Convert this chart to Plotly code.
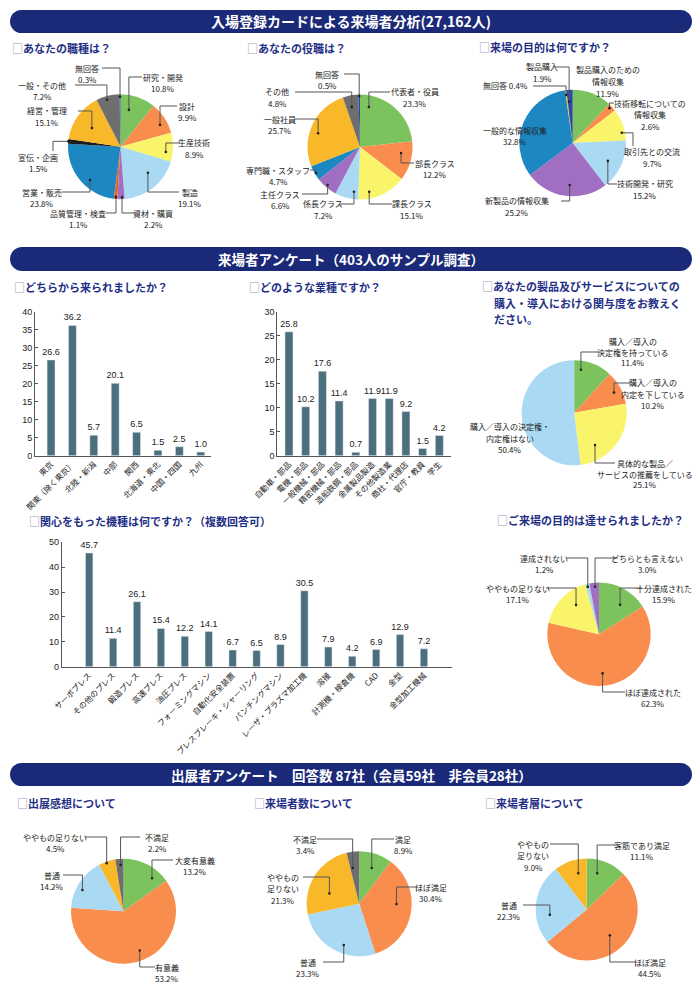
import math
import plotly.graph_objects as go

W, H = 700, 986
JP = "Noto Sans CJK JP, Noto Sans, sans-serif"
NUM = "Liberation Sans, Arial, sans-serif"
BANNER = "#1b2a78"
TITLE_C = "#1f2f86"
BAR_C = "#4c6f7e"

GREEN, ORANGE, YELLOW, LBLUE = "#7cc35e", "#f98d4e", "#f9f46a", "#a9d9f3"
PURPLE, BLUE, GOLD, GRAY = "#a16fc2", "#1c87c0", "#f9b82a", "#6e6e6e"
NAVY, BLACK, REDOR = "#2a48a8", "#1a1a1a", "#e8642c"

# ---------------- data ----------------
JOB_LABELS = ["研究・開発", "設計", "生産技術", "製造", "資材・購買", "品質管理・検査",
              "営業・販売", "宣伝・企画", "経営・管理", "一般・その他", "無回答"]
JOB_VALUES = [10.8, 9.9, 8.9, 19.1, 2.2, 1.1, 23.8, 1.5, 15.1, 7.2, 0.3]

POST_LABELS = ["代表者・役員", "部長クラス", "課長クラス", "係長クラス", "主任クラス",
               "専門職・スタッフ", "一般社員", "その他", "無回答"]
POST_VALUES = [23.3, 12.2, 15.1, 7.2, 6.6, 4.7, 25.7, 4.8, 0.5]

PURPOSE_LABELS = ["製品購入のための\n情報収集", "技術移転についての\n情報収集", "取引先との交流",
                  "技術開発・研究", "新製品の情報収集", "一般的な情報収集", "無回答", "製品購入"]
PURPOSE_VALUES = [11.9, 2.6, 9.7, 15.2, 25.2, 32.8, 0.4, 1.9]

REGION_LABELS = ["東京", "関東（除く東京）", "北陸・新潟", "中部", "関西", "北海道・東北", "中国・四国", "九州"]
REGION_VALUES = [26.6, 36.2, 5.7, 20.1, 6.5, 1.5, 2.5, 1.0]
REGION_TICKS = [0, 5, 10, 15, 20, 25, 30, 35, 40]

INDUSTRY_LABELS = ["自動車・部品", "電機・部品", "一般機械・部品", "精密機械・部品", "造船鉄鋼・部品",
                   "金属製品製造", "その他製造業", "商社・代理店", "官庁・教員", "学生"]
INDUSTRY_VALUES = [25.8, 10.2, 17.6, 11.4, 0.7, 11.9, 11.9, 9.2, 1.5, 4.2]
INDUSTRY_TICKS = [0, 5, 10, 15, 20, 25, 30]

ROLE_LABELS = ["購入／導入の\n決定権を持っている", "購入／導入の\n内定を下している",
               "具体的な製品／\nサービスの推薦をしている", "購入／導入の決定権・\n内定権はない"]
ROLE_VALUES = [11.4, 10.2, 25.1, 50.4]

MACHINE_LABELS = ["サーボプレス", "その他のプレス", "鍛造プレス", "高速プレス", "油圧プレス",
                  "フォーミングマシン", "自動化安全装置", "プレスブレーキ・シャーリング", "パンチングマシン",
                  "レーザ・プラズマ加工機", "溶接", "計測機・検査機", "CAD", "金型", "金型加工機械"]
MACHINE_VALUES = [45.7, 11.4, 26.1, 15.4, 12.2, 14.1, 6.7, 6.5, 8.9, 30.5, 7.9, 4.2, 6.9, 12.9, 7.2]
MACHINE_TICKS = [0, 10, 20, 30, 40, 50]

ACHIEVE_LABELS = ["十分達成された", "ほぼ達成された", "ややもの足りない", "達成されない", "どちらとも言えない"]
ACHIEVE_VALUES = [15.9, 62.3, 17.1, 1.2, 3.0]

EXHIBIT_LABELS = ["大変有意義", "有意義", "普通", "ややもの足りない", "不満足"]
EXHIBIT_VALUES = [13.2, 53.2, 14.2, 4.5, 2.2]

VISITNUM_LABELS = ["満足", "ほぼ満足", "普通", "ややもの\n足りない", "不満足"]
VISITNUM_VALUES = [8.9, 30.4, 23.3, 21.3, 3.4]

VISITTYPE_LABELS = ["客筋であり満足", "ほぼ満足", "普通", "ややもの\n足りない"]
VISITTYPE_VALUES = [11.1, 44.5, 22.3, 9.0]

# ---------------- layout specs (positions in px) ----------------
JOB_POS = [dict(x=163, y=77, lx=142, t=0.33, f=0.72), dict(x=187, y=106, lx=177, t=0.62, f=0.86),
           dict(x=194, y=143, lx=180, t=0.69, f=0.87), dict(x=190, y=192, lx=179, t=0.39, f=0.72),
           dict(x=153, y=213, lx=134, t=0.35, f=0.96), dict(x=78, y=213, lx=106, t=0.43, f=0.96),
           dict(x=42, y=192, lx=62, t=0.41, f=0.86), dict(x=38, y=157, lx=53, ly=151, m="v", t=0.5, f=1.0),
           dict(x=47, y=111, lx=78, t=0.45, f=0.65), dict(x=42, y=85, lx=75, t=0.42, f=0.93),
           dict(x=87, y=68, lx=102, t=0.5, f=0.95)]
POST_POS = [dict(x=415, y=92, lx=390, t=0.15, f=0.78), dict(x=435, y=163, lx=414, t=0.33, f=0.79),
            dict(x=412, y=204, lx=392, t=0.75, f=0.87), dict(x=323, y=204, lx=340, t=0.22, f=0.86),
            dict(x=280, y=194, lx=302, t=0.53, f=0.95), dict(x=278, y=170, lx=310, t=0.46, f=0.97),
            dict(x=280, y=119, lx=294, t=0.43, f=0.84), dict(x=277, y=92, lx=295, t=0.43, f=0.78),
            dict(x=327, y=74, lx=344, t=0.5, f=0.97)]
PURPOSE_POS = [dict(x=608, y=70, noline=True), dict(x=650, y=103, lx=614, t=0.38, f=0.95),
               dict(x=652, y=152, lx=633, ly=146, m="v", t=0.74, f=0.94),
               dict(x=645, y=184, lx=617, t=0.54, f=0.74), dict(x=517, y=201, lx=561, t=0.46, f=0.79),
               dict(x=515, y=130, noline=True), dict(x=505, y=86, lx=533, t=0.3, f=0.91, inline=True),
               dict(x=542, y=67, lx=555, t=0.28, f=0.78)]
ROLE_POS = [dict(x=633, y=341, lx=601, ly=352, t=0.21, f=0.83), dict(x=653, y=383, lx=630, t=0.55, f=0.85),
            dict(x=645, y=463, lx=615, t=0.72, f=0.73), dict(x=510, y=427, noline=True)]
ACHIEVE_POS = [dict(x=664, y=588, lx=642, t=0.62, f=0.7), dict(x=653, y=692, lx=625, t=0.52, f=0.76),
               dict(x=518, y=588, lx=546, t=0.63, f=0.72), dict(x=544, y=558, lx=567, t=0.42, f=0.94),
               dict(x=647, y=558, lx=618, t=0.56, f=0.92)]
EXHIBIT_POS = [dict(x=195, y=860, lx=173, t=0.75, f=0.83), dict(x=167, y=967, lx=155, t=0.47, f=0.81),
               dict(x=52, y=875, lx=63, t=0.4, f=0.88), dict(x=55, y=837, lx=85, t=0.45, f=0.97),
               dict(x=157, y=837, lx=140, t=0.6, f=0.88)]
VISITNUM_POS = [dict(x=403, y=839, lx=394, t=0.53, f=0.72), dict(x=431, y=887, lx=418, t=0.43, f=0.71),
                dict(x=308, y=962, lx=323, t=0.4, f=0.84), dict(x=283, y=877, lx=303, t=0.35, f=0.6),
                dict(x=305, y=839, lx=317, t=0.26, f=0.69)]
VISITTYPE_POS = [dict(x=642, y=845, lx=615, t=0.35, f=0.74), dict(x=650, y=962, lx=637, t=0.5, f=0.68),
                 dict(x=509, y=905, lx=523, t=0.34, f=0.73), dict(x=533, y=844, lx=550, t=0.65, f=0.73)]


def X(px):
    return px / W


def Y(py):
    return 1 - py / H


fig = go.Figure()
shapes, annots = [], []


def text(x, y, s, size=8, color="#222", anchor="center", family=JP):
    annots.append(dict(x=X(x), y=Y(y), xref="paper", yref="paper", text=s, showarrow=False,
                       xanchor=anchor, yanchor="middle", font=dict(size=size, color=color, family=family)))


def add_pie(labels, values, colors, cx, cy, r, specs, gap=11.5):
    fig.add_trace(go.Pie(labels=[l.replace("\n", "") for l in labels], values=values, sort=False,
                         direction="clockwise", rotation=0, textinfo="none", hoverinfo="label+value",
                         marker=dict(colors=colors, line=dict(width=0)), showlegend=False,
                         domain=dict(x=[X(cx - r), X(cx + r)], y=[Y(cy + r), Y(cy - r)])))
    total = sum(values)
    cum = 0.0
    for lab, v, sp in zip(labels, values, specs):
        pct = f"{v:.1f}%"
        lines = [lab + " " + pct] if sp.get("inline") else lab.split("\n") + [pct]
        for i, ln in enumerate(lines):
            text(sp["x"], sp["y"] + i * gap, ln)
        if not sp.get("noline"):
            th = math.radians((cum + sp.get("t", 0.5) * v) / total * 360)
            dxp = cx + sp["f"] * r * math.sin(th)
            dyp = cy - sp["f"] * r * math.cos(th)
            sx, sy = sp["lx"], sp.get("ly", sp["y"])
            if sp.get("m", "h") == "h":
                pts = [(sx, sy), (dxp, sy), (dxp, dyp)]
            else:
                pts = [(sx, sy), (sx, dyp), (dxp, dyp)]
            path = "M " + " L ".join(f"{X(a):.5f},{Y(b):.5f}" for a, b in pts)
            shapes.append(dict(type="path", path=path, xref="paper", yref="paper",
                               line=dict(color="#555", width=1)))
            shapes.append(dict(type="circle", xref="paper", yref="paper", x0=X(dxp - 1.3), x1=X(dxp + 1.3),
                               y0=Y(dyp + 1.3), y1=Y(dyp - 1.3), fillcolor="#222", line=dict(width=0)))
        cum += v


def add_bar(idx, labels, values, ticks, x0, x1, ytop, ybot, xr, width):
    fig.add_trace(go.Bar(x=labels, y=values, xaxis=f"x{idx}", yaxis=f"y{idx}", marker_color=BAR_C,
                         width=width, text=[f"{v:.1f}" for v in values], textposition="outside",
                         constraintext="none", textangle=0,
                         textfont=dict(size=9, color="#222", family=NUM), cliponaxis=False,
                         showlegend=False, hoverinfo="x+y"))
    fig.layout[f"xaxis{idx}"] = dict(domain=[X(x0), X(x1)], anchor=f"y{idx}", type="category",
                                     categoryorder="array", categoryarray=labels, range=xr,
                                     tickangle=-45, dtick=1, tickfont=dict(size=8, color="#222", family=JP),
                                     showline=True, linecolor="#555", linewidth=1, ticks="",
                                     showgrid=False, zeroline=False, fixedrange=True, automargin=False)
    fig.layout[f"yaxis{idx}"] = dict(domain=[Y(ybot), Y(ytop)], anchor=f"x{idx}", range=[0, ticks[-1]],
                                     tickvals=ticks, ticks="inside", ticklen=3, tickcolor="#555",
                                     showline=True, linecolor="#555", linewidth=1, showgrid=False,
                                     zeroline=False, tickfont=dict(size=9, color="#222", family=NUM),
                                     fixedrange=True, automargin=False)


def banner(y0, y1, s, size=13.5, x0=10, x1=692):
    h = y1 - y0
    rr = h / 2
    shapes.append(dict(type="rect", xref="paper", yref="paper", x0=X(x0 + rr), x1=X(x1 - rr),
                       y0=Y(y1), y1=Y(y0), fillcolor=BANNER, line=dict(width=0), layer="below"))
    for cxx in (x0, x1 - h):
        shapes.append(dict(type="circle", xref="paper", yref="paper", x0=X(cxx), x1=X(cxx + h),
                           y0=Y(y1), y1=Y(y0), fillcolor=BANNER, line=dict(width=0), layer="below"))
    text((x0 + x1) / 2, (y0 + y1) / 2, f"<b>{s}</b>", size=size, color="white")


BOX = '<span style="color:#9aa0bc">□</span>'


def title(x, y, s, box=True):
    text(x, y, f"<b>{(BOX if box else '') + s}</b>", size=11, color=TITLE_C, anchor="left")


# banners
banner(10, 33, "入場登録カードによる来場者分析(27,162人)", size=14)
banner(247, 271, "来場者アンケート（403人のサンプル調査）", size=13.5)
banner(763, 786, "出展者アンケート　回答数 87社（会員59社　非会員28社）", size=13.5)

# titles
title(10, 48, "あなたの職種は？")
title(245, 48, "あなたの役職は？")
title(477, 47, "来場の目的は何ですか？")
title(12, 287, "どちらから来られましたか？")
title(247, 287, "どのような業種ですか？")
title(480, 286, "あなたの製品及びサービスについての")
title(492, 303, "購入・導入における関与度をお教えく", box=False)
title(492, 319, "ださい。", box=False)
title(27, 521, "関心をもった機種は何ですか？（複数回答可）")
title(495, 520, "ご来場の目的は達せられましたか？")
title(15, 803, "出展感想について")
title(252, 803, "来場者数について")
title(483, 803, "来場者層について")

# pies
add_pie(JOB_LABELS, JOB_VALUES,
        [GREEN, ORANGE, YELLOW, LBLUE, PURPLE, REDOR, BLUE, BLACK, GOLD, GRAY, NAVY],
        120.5, 146.7, 52.5, JOB_POS)
add_pie(POST_LABELS, POST_VALUES,
        [GREEN, ORANGE, YELLOW, LBLUE, PURPLE, BLUE, GOLD, GRAY, NAVY],
        360, 147, 52.5, POST_POS)
add_pie(PURPOSE_LABELS, PURPOSE_VALUES,
        [GREEN, ORANGE, YELLOW, LBLUE, PURPLE, BLUE, GOLD, NAVY],
        572.7, 143, 53.3, PURPOSE_POS)
add_pie(ROLE_LABELS, ROLE_VALUES, [GREEN, ORANGE, YELLOW, LBLUE], 574.2, 412.8, 52.5, ROLE_POS, gap=11)
add_pie(ACHIEVE_LABELS, ACHIEVE_VALUES, [GREEN, ORANGE, YELLOW, LBLUE, PURPLE], 599, 634.2, 51.7, ACHIEVE_POS)
add_pie(EXHIBIT_LABELS, EXHIBIT_VALUES, [GREEN, ORANGE, LBLUE, GOLD, GRAY], 123.5, 911.2, 52.5, EXHIBIT_POS)
add_pie(VISITNUM_LABELS, VISITNUM_VALUES, [GREEN, ORANGE, LBLUE, GOLD, GRAY], 359.2, 903.7, 52.5, VISITNUM_POS)
add_pie(VISITTYPE_LABELS, VISITTYPE_VALUES, [GREEN, ORANGE, LBLUE, GOLD], 586.7, 909.5, 51, VISITTYPE_POS)

# bars
add_bar(1, REGION_LABELS, REGION_VALUES, REGION_TICKS, 35, 211, 311.7, 455.7, [-0.75, 7.48], 0.37)
add_bar(2, INDUSTRY_LABELS, INDUSTRY_VALUES, INDUSTRY_TICKS, 277.3, 450.7, 311.7, 455.7, [-0.70, 9.68], 0.48)
add_bar(3, MACHINE_LABELS, MACHINE_VALUES, MACHINE_TICKS, 61.7, 451.7, 542.3, 666.7, [-1.15, 15.16], 0.31)

fig.update_layout(width=W, height=H, margin=dict(l=0, r=0, t=0, b=0, pad=0, autoexpand=False),
                  paper_bgcolor="white", plot_bgcolor="rgba(0,0,0,0)",
                  font=dict(family=JP, color="#222"), shapes=shapes, annotations=annots,
                  bargap=0.5)
fig.write_html("out.html", config={"displayModeBar": False},
               post_script="document.body.style.margin='0';document.body.style.overflow='hidden';")
